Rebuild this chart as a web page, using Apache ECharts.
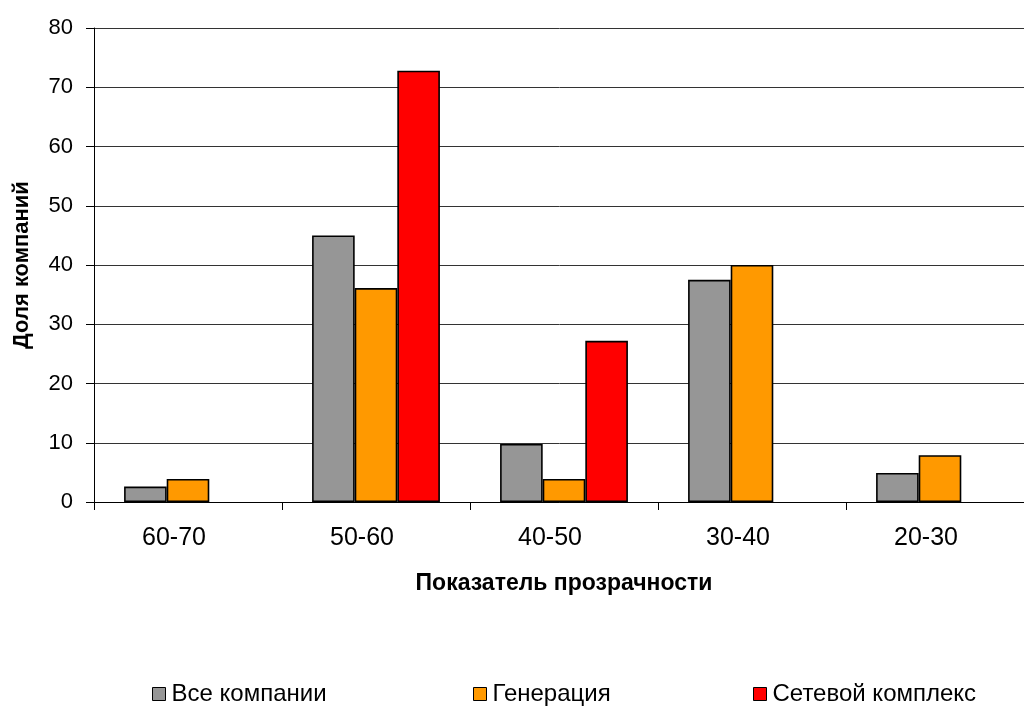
<!DOCTYPE html>
<html>
<head>
<meta charset="utf-8">
<script src="https://cdn.jsdelivr.net/npm/echarts@6/dist/echarts.min.js"></script>
<style>
  html, body { margin: 0; padding: 0; background: #fff; overflow: hidden; }
  #chart { width: 1024px; height: 706px; }
</style>
</head>
<body>
<div id="chart"></div>
<script>
// Transparency score bands
const categories = ['60-70', '50-60', '40-50', '30-40', '20-30'];
// Share of companies per band, %
const allCompanies = [2.6, 45.0, 9.8, 37.5, 4.9];
const generation = [3.9, 36.1, 3.9, 40.0, 7.9];
const gridComplex = [0, 72.8, 27.2, 0, 0];
const seriesNames = ['Все компании', 'Генерация', 'Сетевой комплекс'];
const yTicks = [0, 10, 20, 30, 40, 50, 60, 70, 80];

const colors = ['#969696', '#FF9900', '#FF0000'];
const font = 'Liberation Sans, Arial, sans-serif';

const chart = echarts.init(document.getElementById('chart'));

function makeSeries(name, data, color) {
  return {
    name: name,
    type: 'bar',
    data: data.map(v => (v === 0 ? null : v)),
    barGap: '0%',
    barCategoryGap: '32%',
    itemStyle: { color: color, borderColor: '#000', borderWidth: 1.6 },
    emphasis: { disabled: true }
  };
}

function legendAt(left, name) {
  return {
    data: [name],
    left: left,
    top: 677,
    itemWidth: 13,
    itemHeight: 13,
    icon: 'rect',
    selectedMode: false,
    textStyle: { fontFamily: font, fontSize: 24, color: '#000', padding: [0, 0, 0, 1] },
    itemStyle: { borderColor: '#000', borderWidth: 1 }
  };
}

chart.setOption({
  animation: false,
  backgroundColor: '#fff',
  color: colors,
  // the plot runs a little past the right edge of the canvas
  grid: { left: 94, width: 940, top: 28, bottom: 204, outerBoundsMode: 'none' },
  legend: [
    legendAt(147, seriesNames[0]),
    legendAt(468, seriesNames[1]),
    legendAt(748, seriesNames[2])
  ],
  xAxis: {
    type: 'category',
    data: categories,
    name: 'Показатель прозрачности',
    nameLocation: 'middle',
    nameGap: 70,
    nameTextStyle: { fontFamily: font, fontSize: 23, fontWeight: 'bold', color: '#000' },
    axisLine: { lineStyle: { color: '#000', width: 1 } },
    axisTick: { show: true, length: 8, lineStyle: { color: '#000' } },
    axisLabel: { fontFamily: font, fontSize: 25, color: '#000', margin: 24, padding: [0, 28, 0, 0] }
  },
  yAxis: {
    type: 'value',
    min: yTicks[0],
    max: yTicks[yTicks.length - 1],
    interval: 10,
    name: 'Доля компаний',
    nameLocation: 'middle',
    nameGap: 61,
    nameRotate: 90,
    nameTextStyle: { fontFamily: font, fontSize: 22, fontWeight: 'bold', color: '#000' },
    axisLine: { show: true, lineStyle: { color: '#000', width: 1 } },
    axisTick: { show: true, length: 8, lineStyle: { color: '#000' } },
    axisLabel: { fontFamily: font, fontSize: 22, color: '#000', margin: 21 },
    splitLine: { show: true, lineStyle: { color: '#333', width: 1 } }
  },
  series: [
    makeSeries(seriesNames[0], allCompanies, colors[0]),
    makeSeries(seriesNames[1], generation, colors[1]),
    makeSeries(seriesNames[2], gridComplex, colors[2])
  ]
});
</script>
</body>
</html>
